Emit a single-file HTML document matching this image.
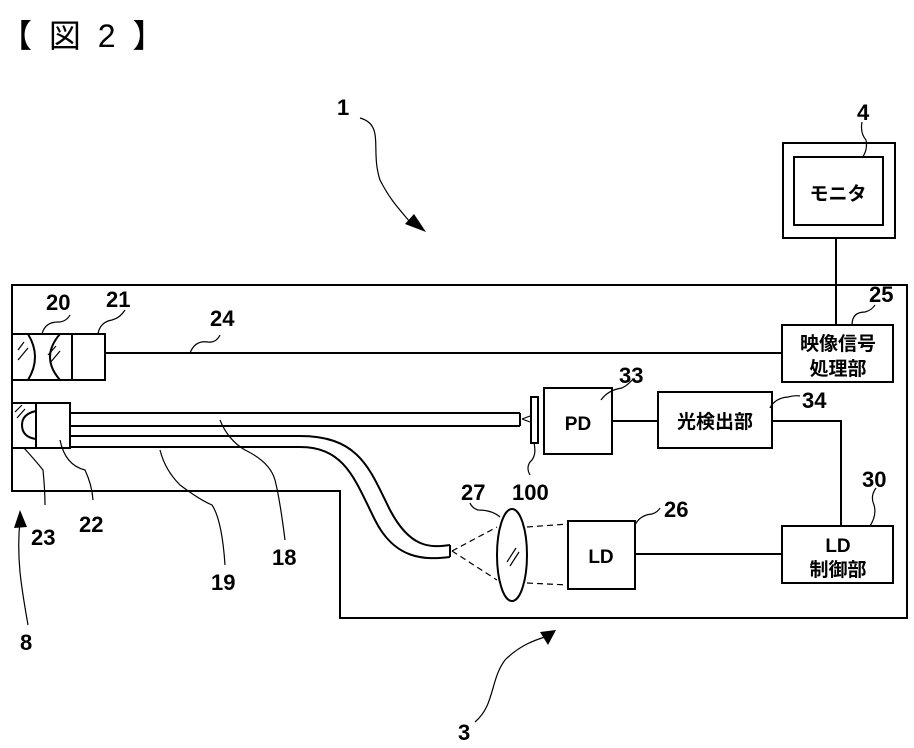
<!DOCTYPE html>
<html><head><meta charset="utf-8"><style>
body{margin:0;background:#fff}
svg{display:block}
text{font-family:"Liberation Sans","Noto Sans CJK JP",sans-serif;font-weight:bold;fill:#000}
text.t{font-weight:normal}
</style></head><body>
<svg width="914" height="748" viewBox="0 0 914 748" xmlns="http://www.w3.org/2000/svg">
<g fill="none" stroke="#000" stroke-width="2">
<path d="M12 285 H907 V618 H340 V491 H12 Z"/>
<rect x="783" y="143" width="112" height="95"/>
<rect x="794" y="157" width="89" height="68"/>
<line x1="836" y1="238" x2="836" y2="325"/>
<rect x="782" y="325" width="111" height="57"/>
<line x1="105" y1="353" x2="782" y2="353"/>
<rect x="12" y="334" width="93" height="46"/>
<line x1="72" y1="334" x2="72" y2="380"/>
<path d="M28 334 Q42 357 28 380"/>
<path d="M60 334 Q40 357 60 380"/>
<rect x="12" y="403" width="58" height="45"/>
<line x1="36" y1="403" x2="36" y2="448"/>
<path d="M36 411 Q22 414 22 425 Q22 437 36 439"/>
<line x1="70" y1="413" x2="520" y2="413"/>
<line x1="70" y1="426" x2="520" y2="426"/>
<line x1="520" y1="413" x2="520" y2="426"/>
<path d="M70 436 H300 C360 436 370 470 390 510 C410 548 430 548 450 545"/>
<path d="M70 447 H300 C345 447 355 480 375 520 C395 560 425 560 450 557"/>
<line x1="450" y1="545" x2="450" y2="557"/>
<rect x="531" y="397" width="7" height="46"/>
<rect x="544" y="388" width="68" height="66"/>
<line x1="612" y1="421" x2="658" y2="421"/>
<rect x="658" y="392" width="114" height="56"/>
<path d="M772 421 H841 V526"/>
<rect x="782" y="526" width="111" height="57"/>
<rect x="568" y="521" width="67" height="68"/>
<line x1="635" y1="554" x2="782" y2="554"/>
<ellipse cx="512" cy="555" rx="15" ry="46"/>
</g>
<g fill="none" stroke="#000" stroke-width="1.2">
<path d="M18 350 L24 342 M18 360 L28 348 M48 355 L56 346 M50 363 L60 351"/>
<path d="M15 412 L22 405 M17 418 L25 409"/>
<path d="M507 562 L516 548 M510 566 L519 552"/>
<path d="M452 551 L497 527 M452 551 L497 580 M527 527 L568 524 M527 583 L568 585" stroke-dasharray="6 4"/>
<path d="M522 419 L530 416 M522 419 L530 422"/>
<path d="M42 334 Q45 322 58 322 Q66 322 70 315"/>
<path d="M98 334 Q100 322 112 320 Q120 318 125 310"/>
<path d="M190 353 Q195 340 208 342 Q216 343 220 335"/>
<path d="M852 325 Q852 312 865 312 Q872 310 875 305"/>
<path d="M601 400 Q608 390 622 388 Q628 385 632 380"/>
<path d="M770 408 Q775 398 788 397 Q795 395 800 396"/>
<path d="M870 526 Q877 515 874 505 Q870 496 876 488"/>
<path d="M635 525 Q640 515 652 514 Q658 512 660 508"/>
<path d="M500 517 Q492 510 478 510 Q472 508 470 503"/>
<path d="M534 443 Q537 456 530 462 Q526 468 530 475"/>
<path d="M862 122 Q860 133 866 140 Q868 150 862 158"/>
<path d="M220 420 Q228 440 245 450 Q270 462 275 480 Q280 500 285 540"/>
<path d="M160 450 Q165 470 180 485 Q200 500 212 505 Q222 520 225 565"/>
<path d="M60 440 Q65 465 85 470 Q92 485 93 500"/>
<path d="M24 448 Q35 460 43 470 Q45 490 45 505"/>
<path d="M360 118 C385 125 370 150 380 180 C390 200 400 210 410 222"/>
<path d="M28 625 C22 590 16 560 20 520"/>
<path d="M475 722 C495 705 490 680 505 660 C520 645 535 640 548 636"/>
</g>
<g fill="#000">
<polygon points="426,232 405,224 414,214"/>
<polygon points="20,510 14,528 27,527"/>
<polygon points="556,630 540,632 548,645"/>
</g>
<text class="t" x="0" y="47" font-size="32" letter-spacing="4">【 図 2 】</text>
<text x="337" y="115" font-size="22">1</text>
<text x="857" y="120" font-size="22">4</text>
<text x="838" y="200" font-size="19" text-anchor="middle">モニタ</text>
<text x="838" y="350" font-size="19" text-anchor="middle">映像信号</text>
<text x="838" y="375" font-size="19" text-anchor="middle">処理部</text>
<text x="46" y="310" font-size="22">20</text>
<text x="106" y="307" font-size="22">21</text>
<text x="210" y="326" font-size="22">24</text>
<text x="869" y="302" font-size="22">25</text>
<text x="619" y="383" font-size="22">33</text>
<text x="802" y="408" font-size="22">34</text>
<text x="578" y="430" font-size="19" text-anchor="middle">PD</text>
<text x="715" y="428" font-size="19" text-anchor="middle">光検出部</text>
<text x="862" y="487" font-size="22">30</text>
<text x="838" y="552" font-size="19" text-anchor="middle">LD</text>
<text x="838" y="576" font-size="19" text-anchor="middle">制御部</text>
<text x="664" y="517" font-size="22">26</text>
<text x="601" y="563" font-size="19" text-anchor="middle">LD</text>
<text x="461" y="500" font-size="22">27</text>
<text x="512" y="500" font-size="22">100</text>
<text x="31" y="545" font-size="22">23</text>
<text x="79" y="532" font-size="22">22</text>
<text x="211" y="590" font-size="22">19</text>
<text x="272" y="565" font-size="22">18</text>
<text x="20" y="650" font-size="22">8</text>
<text x="458" y="740" font-size="22">3</text>
</svg>
</body></html>
